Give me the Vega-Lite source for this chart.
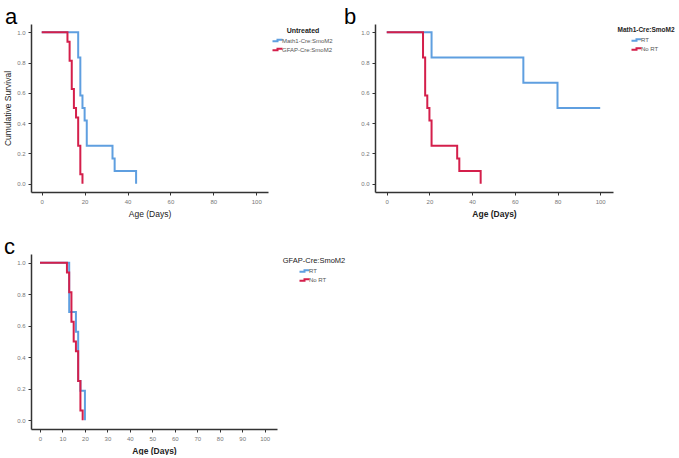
{
  "$schema": "https://vega.github.io/schema/vega-lite/v6.json",
  "background": "white",
  "padding": {"left": 3, "top": 6, "right": 0, "bottom": 0},
  "config": {
    "view": {"stroke": null},
    "font": "Liberation Sans",
    "axis": {
      "grid": false,
      "domainColor": "#333333",
      "domainWidth": 1.5,
      "tickColor": "#333333",
      "tickSize": 3,
      "labelFontSize": 6,
      "labelColor": "#777777",
      "labelPadding": 3,
      "titleFontSize": 8.5,
      "titleFontWeight": "normal",
      "titleColor": "#222222"
    },
    "legend": {
      "titleFontSize": 7,
      "titleFontWeight": "bold",
      "titleColor": "#222222",
      "titleAnchor": "middle",
      "titlePadding": 3,
      "labelFontSize": 6,
      "labelColor": "#555555",
      "labelOffset": 1,
      "rowPadding": -2,
      "symbolStrokeWidth": 2,
      "symbolSize": 25,
      "symbolType": "M-2,0.3H0V-0.3H2",
      "offset": 3,
      "padding": 3
    },
    "title": {"fontSize": 22, "fontWeight": "normal", "color": "#000000", "anchor": "start", "frame": "group"}
  },
  "datasets": {
    "untreated": [
      {"group": "Math1-Cre:SmoM2", "day": 0, "survival": 1},
      {"group": "Math1-Cre:SmoM2", "day": 17, "survival": 0.833},
      {"group": "Math1-Cre:SmoM2", "day": 18, "survival": 0.583},
      {"group": "Math1-Cre:SmoM2", "day": 19, "survival": 0.5},
      {"group": "Math1-Cre:SmoM2", "day": 20, "survival": 0.417},
      {"group": "Math1-Cre:SmoM2", "day": 21, "survival": 0.25},
      {"group": "Math1-Cre:SmoM2", "day": 33, "survival": 0.167},
      {"group": "Math1-Cre:SmoM2", "day": 34, "survival": 0.083},
      {"group": "Math1-Cre:SmoM2", "day": 44, "survival": 0},
      {"group": "GFAP-Cre:SmoM2", "day": 0, "survival": 1},
      {"group": "GFAP-Cre:SmoM2", "day": 12, "survival": 0.9375},
      {"group": "GFAP-Cre:SmoM2", "day": 13, "survival": 0.8125},
      {"group": "GFAP-Cre:SmoM2", "day": 14, "survival": 0.625},
      {"group": "GFAP-Cre:SmoM2", "day": 15, "survival": 0.5},
      {"group": "GFAP-Cre:SmoM2", "day": 16, "survival": 0.4375},
      {"group": "GFAP-Cre:SmoM2", "day": 17, "survival": 0.25},
      {"group": "GFAP-Cre:SmoM2", "day": 18, "survival": 0.0625},
      {"group": "GFAP-Cre:SmoM2", "day": 19, "survival": 0}
    ],
    "math1": [
      {"group": "RT", "day": 0, "survival": 1},
      {"group": "RT", "day": 21, "survival": 0.833},
      {"group": "RT", "day": 64, "survival": 0.667},
      {"group": "RT", "day": 80, "survival": 0.5},
      {"group": "RT", "day": 100, "survival": 0.5},
      {"group": "No RT", "day": 0, "survival": 1},
      {"group": "No RT", "day": 17, "survival": 0.833},
      {"group": "No RT", "day": 18, "survival": 0.583},
      {"group": "No RT", "day": 19, "survival": 0.5},
      {"group": "No RT", "day": 20, "survival": 0.417},
      {"group": "No RT", "day": 21, "survival": 0.25},
      {"group": "No RT", "day": 33, "survival": 0.167},
      {"group": "No RT", "day": 34, "survival": 0.083},
      {"group": "No RT", "day": 44, "survival": 0}
    ],
    "gfap": [
      {"group": "RT", "day": 0, "survival": 1},
      {"group": "RT", "day": 13, "survival": 0.6875},
      {"group": "RT", "day": 16, "survival": 0.5625},
      {"group": "RT", "day": 17, "survival": 0.25},
      {"group": "RT", "day": 18, "survival": 0.1875},
      {"group": "RT", "day": 20, "survival": 0},
      {"group": "No RT", "day": 0, "survival": 1},
      {"group": "No RT", "day": 12, "survival": 0.9375},
      {"group": "No RT", "day": 13, "survival": 0.8125},
      {"group": "No RT", "day": 14, "survival": 0.625},
      {"group": "No RT", "day": 15, "survival": 0.5},
      {"group": "No RT", "day": 16, "survival": 0.4375},
      {"group": "No RT", "day": 17, "survival": 0.25},
      {"group": "No RT", "day": 18, "survival": 0.0625},
      {"group": "No RT", "day": 19, "survival": 0}
    ]
  },
  "spacing": 18,
  "resolve": {"scale": {"color": "independent", "x": "independent", "y": "independent"}},
  "vconcat": [
    {
      "spacing": 8,
      "resolve": {"scale": {"color": "independent", "x": "independent", "y": "independent"}},
      "hconcat": [
        {
          "title": {"text": "a", "dx": -26, "offset": -5},
          "width": 237,
          "height": 168,
          "data": {"name": "untreated"},
          "mark": {"type": "line", "interpolate": "step-after", "strokeWidth": 2},
          "encoding": {
            "x": {"field": "day", "type": "quantitative", "scale": {"domain": [-5, 105.5], "nice": false, "zero": false},
                  "axis": {"values": [0, 20, 40, 60, 80, 100], "title": "Age (Days)", "titlePadding": 5}},
            "y": {"field": "survival", "type": "quantitative", "scale": {"domain": [-0.055, 1.055], "nice": false, "zero": false},
                  "axis": {"values": [0, 0.2, 0.4, 0.6, 0.8, 1], "format": ".1f", "title": "Cumulative Survival", "titlePadding": 4}},
            "color": {"field": "group", "type": "nominal",
                      "scale": {"domain": ["Math1-Cre:SmoM2", "GFAP-Cre:SmoM2"], "range": ["#5f9fe0", "#d41f4b"]},
                      "legend": {"title": "Untreated"}}
          }
        },
        {
          "title": {"text": "b", "dx": -31, "offset": -5},
          "width": 238,
          "height": 168,
          "data": {"name": "math1"},
          "mark": {"type": "line", "interpolate": "step-after", "strokeWidth": 2},
          "encoding": {
            "x": {"field": "day", "type": "quantitative", "scale": {"domain": [-5.5, 106], "nice": false, "zero": false},
                  "axis": {"values": [0, 20, 40, 60, 80, 100], "title": "Age (Days)", "titlePadding": 5, "titleFontWeight": "bold"}},
            "y": {"field": "survival", "type": "quantitative", "scale": {"domain": [-0.055, 1.055], "nice": false, "zero": false},
                  "axis": {"values": [0, 0.2, 0.4, 0.6, 0.8, 1], "format": ".1f", "title": null}},
            "color": {"field": "group", "type": "nominal",
                      "scale": {"domain": ["RT", "No RT"], "range": ["#5f9fe0", "#d41f4b"]},
                      "legend": {"title": "Math1-Cre:SmoM2", "titleFontSize": 6.5, "offset": 1}}
          }
        }
      ]
    },
    {
      "title": {"text": "c", "dx": -27, "offset": -5},
      "width": 246,
      "height": 175,
      "data": {"name": "gfap"},
      "mark": {"type": "line", "interpolate": "step-after", "strokeWidth": 2},
      "encoding": {
        "x": {"field": "day", "type": "quantitative", "scale": {"domain": [-4, 105.5], "nice": false, "zero": false},
              "axis": {"values": [0, 10, 20, 30, 40, 50, 60, 70, 80, 90, 100], "title": "Age (Days)", "titlePadding": 5, "titleFontWeight": "bold"}},
        "y": {"field": "survival", "type": "quantitative", "scale": {"domain": [-0.055, 1.055], "nice": false, "zero": false},
              "axis": {"values": [0, 0.2, 0.4, 0.6, 0.8, 1], "format": ".1f", "title": null}},
        "color": {"field": "group", "type": "nominal",
                  "scale": {"domain": ["RT", "No RT"], "range": ["#5f9fe0", "#d41f4b"]},
                  "legend": {"title": "GFAP-Cre:SmoM2", "titleFontWeight": "normal", "titleFontSize": 7.5}}
      }
    }
  ]
}
